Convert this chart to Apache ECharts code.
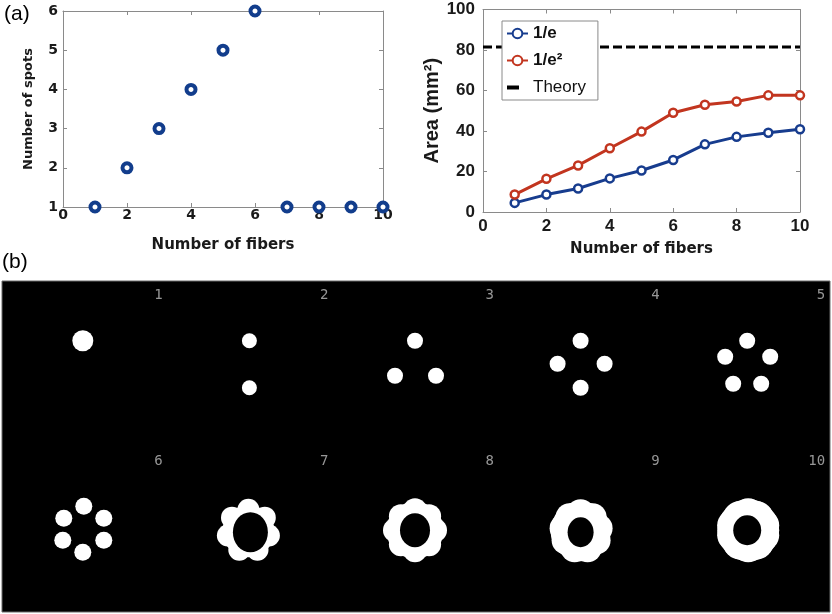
<!DOCTYPE html>
<html><head><meta charset="utf-8">
<script src="https://cdn.jsdelivr.net/npm/echarts@6/dist/echarts.min.js"></script>
<style>html,body{margin:0;padding:0;background:#fff}#c{width:832px;height:614px}</style>
</head><body><div id="c"></div>
<script>
// ---------- panel (a) data ----------
const fibers = [1, 2, 3, 4, 5, 6, 7, 8, 9, 10];
const spotCount = [1, 2, 3, 4, 5, 6, 1, 1, 1, 1];
const area1e = [4.5, 8.6, 11.6, 16.6, 20.5, 25.7, 33.4, 37.1, 39.1, 40.9];
const area1e2 = [8.6, 16.4, 23.0, 31.5, 39.7, 49.0, 53.0, 54.6, 57.6, 57.6];
const theoryArea = 81.5;
const fiberTicks = [0, 2, 4, 6, 8, 10];
const spotTicks = [1, 2, 3, 4, 5, 6];
const areaTicks = [0, 20, 40, 60, 80, 100];
const seriesNames = ['1/e', '1/e\u00b2', 'Theory'];

// ---------- panel (b) data: spot images (offsets from cell centre, image px) ----------
const patternLabels = ['1', '2', '3', '4', '5', '6', '7', '8', '9', '10'];
const spotOffsets = [
  [[-2, -23]],
  [[-1, -23], [-1, 24]],
  [[-1, -23], [-21, 12], [20, 12]],
  [[-1, -23], [-24, 0], [23, 0], [-1, 24]],
  [[0, -23], [-22, -7], [23, -7], [-14, 20], [14, 20]],
  [[-1, -23], [-21, -11], [19, -11], [-22, 11], [19, 11], [-2, 23]],
  [[-2, -19.5], [14.4, -11.6], [18.5, 6.2], [7.1, 20.4], [-11.1, 20.4], [-22.5, 6.2], [-18.4, -11.6]],
  [[19, 1], [13.1, 15.1], [-1, 21], [-15.1, 15.1], [-21, 1], [-15.1, -13.1], [-1, -19], [13.1, -13.1]],
  [[-1, -16], [11, -12], [17, -1], [15, 11], [6, 19], [-7, 19], [-16, 11], [-18, -1], [-12, -12]],
  [[1, -15], [10, -12], [16, -4], [16, 6], [10, 14], [1, 17], [-8, 14], [-14, 6], [-14, -4], [-8, -12]]
];
const spotDiameter = [21, 15, 16, 16, 16, 17, 22, 24, 28, 32];
const bodyOffsets = [null, null, null, null, null, null, [-2, 2], [-1, 1], [-1, 2], [1, 1]];
const bodySize = [null, null, null, null, null, null, 52, 57, 60, 62];
const holeOffsets = [null, null, null, null, null, null, [0, 3], [-1, 1], [-1, 3], [0, 1]];
const holeSize = [null, null, null, null, null, null, [35, 40], [30, 34], [26, 30], [28, 30]];

// ---------- layout / style ----------
const BLUE = '#173c8e', RED = '#c2351f', NAVY = '#123d8c';
const panelW = 828, panelH = 331, cols = 5, rows = 2;
const cellW = panelW / cols, cellH = panelH / rows;
function cellCentre(i) { return [((i % cols) + 0.5) * cellW, (Math.floor(i / cols) + 0.5) * cellH]; }

const spotData = [], holeData = [], labelData = [];
spotOffsets.forEach(function (list, i) {
  const c = cellCentre(i);
  list.forEach(function (o) { spotData.push({ value: [c[0] + o[0], c[1] + o[1]], symbolSize: spotDiameter[i] }); });
  if (bodyOffsets[i]) spotData.push({ value: [c[0] + bodyOffsets[i][0], c[1] + bodyOffsets[i][1]], symbolSize: bodySize[i] });
  if (holeOffsets[i]) holeData.push({ value: [c[0] + holeOffsets[i][0], c[1] + holeOffsets[i][1]], symbolSize: holeSize[i] });
  labelData.push({ value: c, name: patternLabels[i] });
});

const gray = '#8a8a8a';
const dv = 'DejaVu Sans', ls = 'Liberation Sans';
function boxAxis(grid, pos, min, max, interval) {
  return { type: 'value', gridIndex: grid, position: pos, min: min, max: max, interval: interval,
    axisLine: { show: true, onZero: false, lineStyle: { color: gray, width: 1 } },
    axisTick: { show: true, inside: true, length: 4, lineStyle: { color: gray } },
    axisLabel: { show: false }, splitLine: { show: false } };
}

const chart = echarts.init(document.getElementById('c'), null, { renderer: 'canvas' });
chart.setOption({
  animation: false,
  backgroundColor: '#fff',
  graphic: [
    { type: 'text', left: 4, top: 4, style: { text: '(a)', font: '21px "Liberation Sans"', fill: '#000' } },
    { type: 'text', left: 2, top: 252, style: { text: '(b)', font: '21px "Liberation Sans"', fill: '#000' } }
  ],
  grid: [
    { left: 63, top: 11, width: 320, height: 196, show: true, borderWidth: 0, backgroundColor: '#fff' },
    { left: 483, top: 9.5, width: 317, height: 202.5, show: true, borderWidth: 0, backgroundColor: '#fff' },
    { left: 2, top: 281, width: panelW, height: panelH, show: true, backgroundColor: '#000', borderColor: '#6a6a6a', borderWidth: 1 }
  ],
  legend: {
    left: 502, top: 21, orient: 'vertical',
    backgroundColor: '#fff', borderColor: '#8a8a8a', borderWidth: 1,
    padding: [4, 12, 4, 3], itemWidth: 21, itemHeight: 12, itemGap: 10,
    data: [
      { name: seriesNames[0] },
      { name: seriesNames[1] },
      { name: seriesNames[2], itemStyle: { color: 'rgba(0,0,0,0)', borderWidth: 0 }, lineStyle: { width: 4, type: [12, 20] } }
    ],
    formatter: function (n) { return n === 'Theory' ? '{n|' + n + '}' : '{b|' + n + '}'; },
    textStyle: { rich: {
      b: { fontFamily: ls, fontWeight: 'bold', fontSize: 17, color: '#111' },
      n: { fontFamily: ls, fontWeight: 'normal', fontSize: 17, color: '#111' }
    } }
  },
  xAxis: [
    { type: 'value', gridIndex: 0, position: 'bottom', min: fiberTicks[0], max: fiberTicks[fiberTicks.length - 1], interval: fiberTicks[1] - fiberTicks[0],
      axisLine: { show: true, onZero: false, lineStyle: { color: gray } },
      axisTick: { show: true, inside: true, length: 4, lineStyle: { color: gray } },
      axisLabel: { margin: 1, fontFamily: dv, fontWeight: 'bold', fontSize: 14, color: '#1a1a1a' },
      splitLine: { show: false },
      name: 'Number of fibers', nameLocation: 'middle', nameGap: 31,
      nameTextStyle: { fontFamily: dv, fontWeight: 'bold', fontSize: 15, color: '#1a1a1a' } },
    boxAxis(0, 'top', fiberTicks[0], fiberTicks[fiberTicks.length - 1], fiberTicks[1] - fiberTicks[0]),
    { type: 'value', gridIndex: 1, position: 'bottom', min: fiberTicks[0], max: fiberTicks[fiberTicks.length - 1], interval: fiberTicks[1] - fiberTicks[0],
      axisLine: { show: true, onZero: false, lineStyle: { color: gray } },
      axisTick: { show: true, inside: true, length: 4, lineStyle: { color: gray } },
      axisLabel: { margin: 6, fontFamily: ls, fontWeight: 'bold', fontSize: 17, color: '#1a1a1a' },
      splitLine: { show: false },
      name: 'Number of fibers', nameLocation: 'middle', nameGap: 30,
      nameTextStyle: { fontFamily: dv, fontWeight: 'bold', fontSize: 15, color: '#1a1a1a' } },
    boxAxis(1, 'top', fiberTicks[0], fiberTicks[fiberTicks.length - 1], fiberTicks[1] - fiberTicks[0]),
    { type: 'value', gridIndex: 2, min: 0, max: panelW, show: false }
  ],
  yAxis: [
    { type: 'value', gridIndex: 0, position: 'left', min: spotTicks[0], max: spotTicks[spotTicks.length - 1], interval: spotTicks[1] - spotTicks[0],
      axisLine: { show: true, onZero: false, lineStyle: { color: gray } },
      axisTick: { show: true, inside: true, length: 4, lineStyle: { color: gray } },
      axisLabel: { margin: 5, fontFamily: dv, fontWeight: 'bold', fontSize: 14, color: '#1a1a1a' },
      splitLine: { show: false },
      name: 'Number of spots', nameLocation: 'middle', nameGap: 28,
      nameTextStyle: { fontFamily: dv, fontWeight: 'bold', fontSize: 13, color: '#1a1a1a' } },
    boxAxis(0, 'right', spotTicks[0], spotTicks[spotTicks.length - 1], spotTicks[1] - spotTicks[0]),
    { type: 'value', gridIndex: 1, position: 'left', min: areaTicks[0], max: areaTicks[areaTicks.length - 1], interval: areaTicks[1] - areaTicks[0],
      axisLine: { show: true, onZero: false, lineStyle: { color: gray } },
      axisTick: { show: true, inside: true, length: 4, lineStyle: { color: gray } },
      axisLabel: { margin: 8, fontFamily: ls, fontWeight: 'bold', fontSize: 17, color: '#1a1a1a' },
      splitLine: { show: false },
      name: 'Area (mm\u00b2)', nameLocation: 'middle', nameGap: 41,
      nameTextStyle: { fontFamily: ls, fontWeight: 'bold', fontSize: 20, color: '#1a1a1a' } },
    boxAxis(1, 'right', areaTicks[0], areaTicks[areaTicks.length - 1], areaTicks[1] - areaTicks[0]),
    { type: 'value', gridIndex: 2, min: 0, max: panelH, inverse: true, show: false }
  ],
  series: [
    { type: 'scatter', name: 'spots', xAxisIndex: 0, yAxisIndex: 0,
      data: fibers.map(function (f, i) { return [f, spotCount[i]]; }),
      symbol: 'circle', symbolSize: 9,
      itemStyle: { color: '#fff', borderColor: NAVY, borderWidth: 4, opacity: 1 } },
    { type: 'line', name: seriesNames[2], xAxisIndex: 2, yAxisIndex: 2,
      data: [[fiberTicks[0], theoryArea], [fiberTicks[fiberTicks.length - 1], theoryArea]],
      symbol: 'none', lineStyle: { color: '#000', width: 3, type: [9, 4] }, itemStyle: { color: '#000' } },
    { type: 'line', name: seriesNames[0], xAxisIndex: 2, yAxisIndex: 2,
      data: fibers.map(function (f, i) { return [f, area1e[i]]; }),
      symbol: 'circle', symbolSize: 8, showSymbol: true,
      lineStyle: { color: BLUE, width: 3 },
      itemStyle: { color: '#fff', borderColor: BLUE, borderWidth: 2.5 } },
    { type: 'line', name: seriesNames[1], xAxisIndex: 2, yAxisIndex: 2,
      data: fibers.map(function (f, i) { return [f, area1e2[i]]; }),
      symbol: 'circle', symbolSize: 8, showSymbol: true,
      lineStyle: { color: RED, width: 3 },
      itemStyle: { color: '#fff', borderColor: RED, borderWidth: 2.5 } },
    { type: 'scatter', name: 'fiber spots', xAxisIndex: 4, yAxisIndex: 4, data: spotData,
      symbol: 'circle', itemStyle: { color: '#fff', opacity: 1 }, silent: true },
    { type: 'scatter', name: 'holes', xAxisIndex: 4, yAxisIndex: 4, data: holeData,
      symbol: 'circle', itemStyle: { color: '#000', opacity: 1 }, silent: true },
    { type: 'scatter', name: 'labels', xAxisIndex: 4, yAxisIndex: 4, data: labelData,
      symbolSize: 0, silent: true,
      label: { show: true, position: 'inside', align: 'right', offset: [78, -68],
        formatter: function (p) { return p.name; },
        fontFamily: 'DejaVu Sans Mono', fontSize: 14, color: '#bdbdbd' } }
  ]
});
</script></body></html>
